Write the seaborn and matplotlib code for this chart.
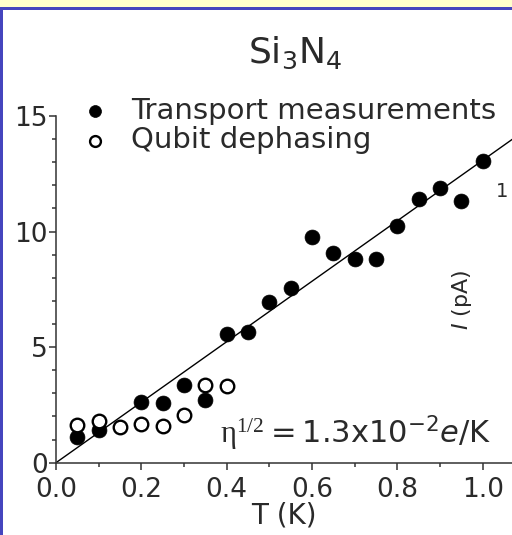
import matplotlib
matplotlib.use('Agg')
import matplotlib.pyplot as plt
import seaborn as sns
import numpy as np
import pandas as pd
from matplotlib.patches import Rectangle
from matplotlib.ticker import MultipleLocator

# values
trans_T = [0.05, 0.10, 0.20, 0.25, 0.30, 0.35, 0.40, 0.45, 0.50, 0.55,
           0.60, 0.65, 0.70, 0.75, 0.80, 0.85, 0.90, 0.95, 1.00]
trans_I = [1.13, 1.41, 2.64, 2.57, 3.36, 2.71, 5.55, 5.67, 6.97, 7.58,
           9.78, 9.09, 8.80, 8.80, 10.22, 11.40, 11.88, 11.34, 13.07]
qubit_T = [0.05, 0.10, 0.15, 0.20, 0.25, 0.30, 0.35, 0.40]
qubit_I = [1.63, 1.82, 1.56, 1.68, 1.59, 2.06, 3.36, 3.32]
fit_T = [0.0, 1.07]
fit_I = [0.0, 14.0]

x_ticks = [0.0, 0.2, 0.4, 0.6, 0.8, 1.0]
y_ticks = [0, 5, 10, 15]

if __name__ == '__main__':
    sns.set_style('ticks')
    plt.rcParams['font.family'] = ['DejaVu Sans']
    plt.rcParams['mathtext.fontset'] = 'custom'
    plt.rcParams['mathtext.rm'] = 'DejaVu Sans'
    plt.rcParams['mathtext.it'] = 'DejaVu Sans:italic'
    plt.rcParams['mathtext.sf'] = 'Liberation Serif'

    W, H = 512, 535
    fig = plt.figure(figsize=(W / 100, H / 100), dpi=100)
    fig.patch.set_facecolor('white')

    # slide frame: yellow band and blue border
    fig.patches.append(Rectangle((0, 1 - 7 / H), 1, 7 / H, transform=fig.transFigure,
                                 facecolor='#FFFFCC', edgecolor='none', zorder=0))
    fig.patches.append(Rectangle((0, 1 - 10 / H), 1, 3 / H, transform=fig.transFigure,
                                 facecolor='#4545BE', edgecolor='none', zorder=0))
    fig.patches.append(Rectangle((0, 0), 3 / W, 1 - 7 / H, transform=fig.transFigure,
                                 facecolor='#4545BE', edgecolor='none', zorder=0))

    x0, x1 = 56, 482.7
    y0, y15 = 462.7, 116
    ax = fig.add_axes([x0 / W, (H - y0) / H, (W - x0) / W, (y0 - y15) / H])
    ax.set_facecolor('none')

    trans = pd.DataFrame({'T': trans_T, 'I': trans_I})
    qubit = pd.DataFrame({'T': qubit_T, 'I': qubit_I})
    fit = pd.DataFrame({'T': fit_T, 'I': fit_I})

    sns.lineplot(data=fit, x='T', y='I', color='black', linewidth=1.0, ax=ax, zorder=2)
    sns.scatterplot(data=trans, x='T', y='I', color='black', edgecolor='black',
                    s=115, linewidth=0.5, label='Transport measurements', ax=ax, zorder=3)
    sns.scatterplot(data=qubit, x='T', y='I', color='white', edgecolor='black',
                    s=95, linewidth=1.7, label='Qubit dephasing', ax=ax, zorder=4)

    ax.set_xlim(0, (W - x0) / (x1 - x0))
    ax.set_ylim(0, 15)
    ax.set_xticks(x_ticks)
    ax.set_xticklabels([f'{v:.1f}' for v in x_ticks])
    ax.set_yticks(y_ticks)
    ax.xaxis.set_minor_locator(MultipleLocator(0.1))
    ax.yaxis.set_minor_locator(MultipleLocator(1))

    sns.despine(ax=ax)
    for side in ['left', 'bottom']:
        ax.spines[side].set_linewidth(1.1)
        ax.spines[side].set_color('#333333')
    ax.tick_params(which='major', direction='out', length=5, width=1.1, color='#333333',
                   labelsize=19, labelcolor='#2a2a2a')
    ax.tick_params(which='minor', direction='out', length=3, width=1.1, color='#333333')
    ax.tick_params(axis='x', pad=5)
    ax.tick_params(axis='y', pad=1)
    # lift the zero label a little so it clears the x tick labels
    for lbl in ax.get_yticklabels():
        lbl.set_verticalalignment('center_baseline')

    ax.set_xlabel('T (K)', fontsize=20, color='#2a2a2a', labelpad=-1)
    ax.set_ylabel('')

    leg = ax.legend(loc='upper left', bbox_to_anchor=(80 / W, 1 - 97 / H),
                    bbox_transform=fig.transFigure, frameon=False, fontsize=21,
                    borderpad=0, borderaxespad=0, handlelength=1.0,
                    handletextpad=0.75, labelspacing=0.05, markerscale=0.8)
    for t in leg.get_texts():
        t.set_color('#2a2a2a')

    fig.text(295 / W, 1 - 53 / H, r'Si$_3$N$_4$', ha='center', va='center',
             fontsize=26, color='#2a2a2a')
    ax.text(0.384, 0.85, r'$\mathsf{\eta^{1/2}} = \mathrm{1.3x10^{-2}}\mathit{e}\mathrm{/K}$',
            ha='left', va='baseline', fontsize=22, color='#2a2a2a')
    fig.text(462 / W, 1 - 300 / H, r'$\mathit{I}$ (pA)', rotation=90, ha='center',
             va='center', fontsize=16, color='#2a2a2a')
    fig.text(496 / W, 1 - 191 / H, '1', ha='left', va='center', fontsize=14,
             color='#2a2a2a')

    fig.savefig('out.png', dpi=100)
